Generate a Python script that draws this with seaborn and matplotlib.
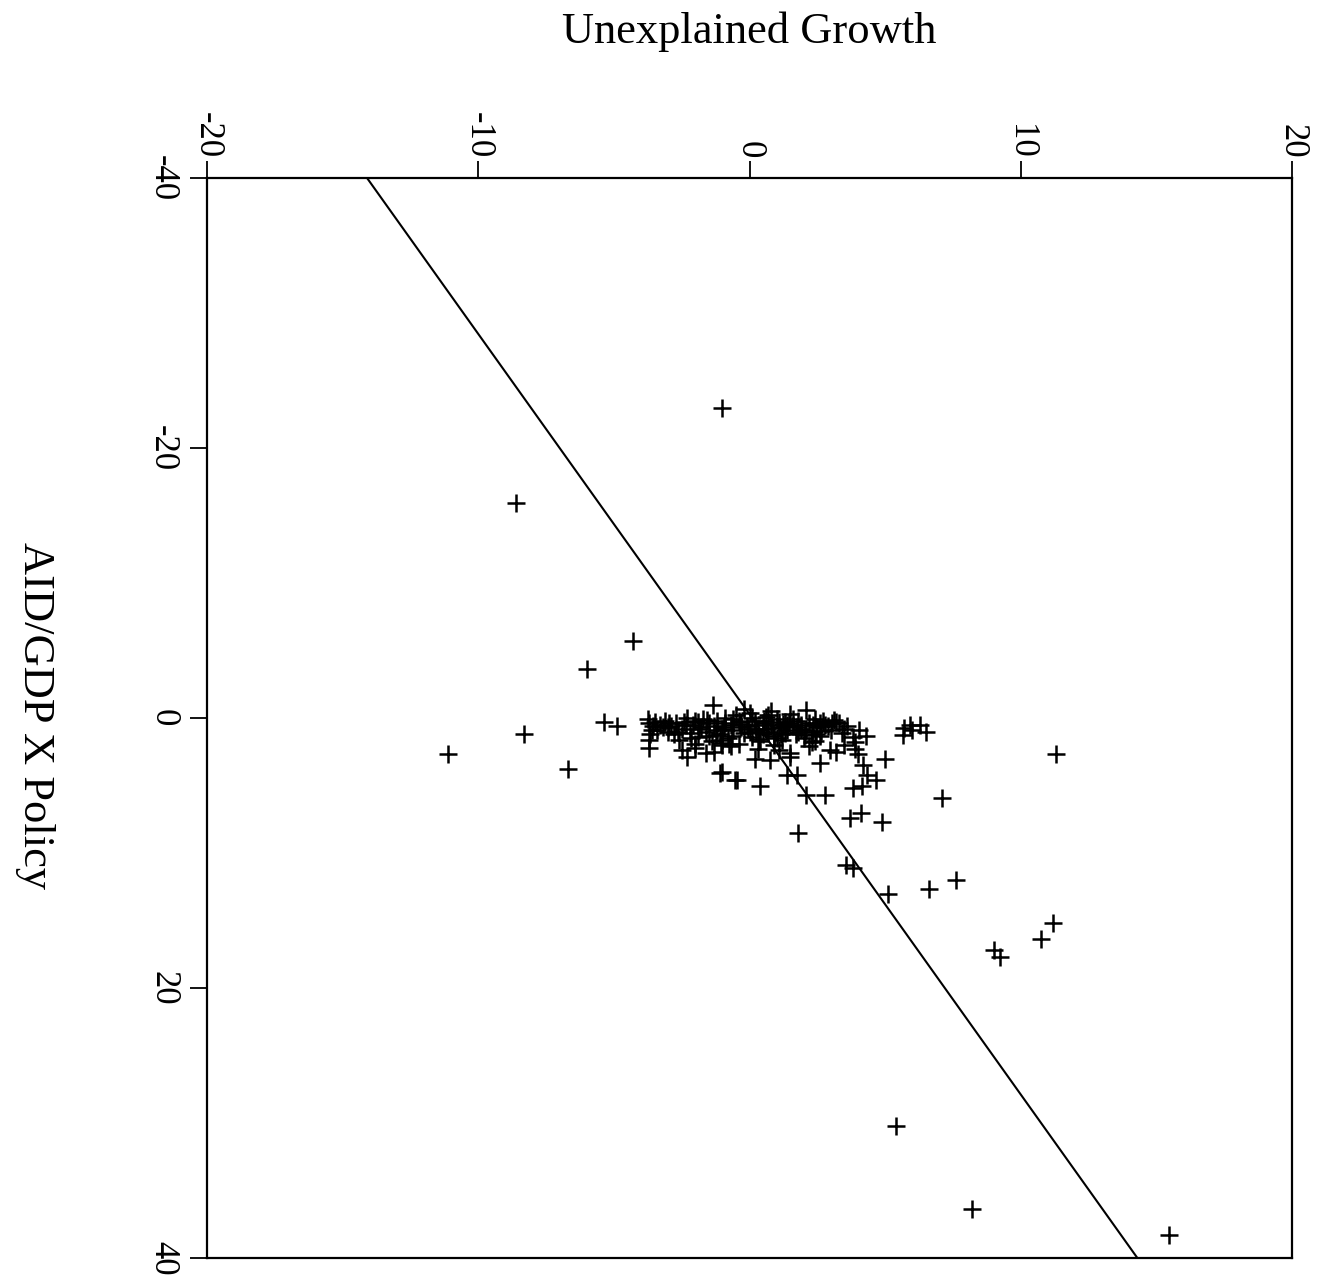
'''
Unexplained growth vs AID/GDP x Policy (rotated scatter with fitted line)
'''

import numpy as np
import pandas as pd
import matplotlib
matplotlib.use("Agg")
import matplotlib.pyplot as plt
import seaborn as sns

# Outlying observations (growth, aid x policy)
out_growth = [-1.0, -8.6, -4.3, -6.0, -1.35, -11.1, -8.3, -6.7, -5.35, -4.9,
              2.1, 7.1, 11.3, 5.0, 4.9, 3.7, 4.1, 1.8, 2.8, 2.1,
              0.4, -0.45, -1.1, 1.4, 1.75, 3.8, 4.15, 4.65, 4.35, 3.56,
              3.8, 5.1, 6.6, 7.6, 9.0, 9.24, 10.75, 11.2, 5.4, 8.2, 15.45,
              5.7, 5.9, 6.0, 5.65, 6.3, 6.5]
out_aid = [-23.0, -15.9, -5.7, -3.6, -1.0, 2.7, 1.2, 3.8, 0.3, 0.6,
           -0.6, 5.9, 2.7, 3.0, 7.7, 7.4, 7.0, 8.5, 5.7, 5.7,
           5.0, 4.6, 4.1, 4.2, 4.2, 5.2, 5.0, 4.6, 4.2, 10.9,
           11.1, 13.0, 12.7, 12.0, 17.2, 17.7, 16.4, 15.2, 30.2, 36.4, 38.3,
           0.75, 0.5, 0.9, 1.25, 0.5, 1.0]

# Points around the edge of the main cluster
edge_growth = [4.05, 3.9, 4.0, 4.2, 3.05, 2.95, 2.6, 0.75, 1.1, 3.2,
               -3.7, -3.7, -3.7, -3.6, -3.0, -2.3, -1.6, -1.0, -0.55, -1.0,
               -3.75, -3.65, -2.5, -2.0, 0.2, 1.5, 2.3, 3.5, 3.9, 4.3]
edge_aid = [0.9, 1.8, 2.7, 3.5, 0.4, 2.4, 3.3, 3.1, 2.4, 2.5,
            0.4, 1.6, 2.2, 0.9, 0.7, 2.9, 2.6, 4.0, 4.6, 2.0,
            0.1, 1.2, 2.4, 1.9, 3.0, 2.9, 1.8, 2.0, 2.3, 1.3]

# Dense core near the origin
core_growth = [-3.5, -3.3, -3.1, -2.9, -2.7, -2.5, -2.4, -2.2, -2.1, -2.0,
               -1.9, -1.8, -1.7, -1.6, -1.5, -1.4, -1.3, -1.2, -1.1, -1.0,
               -0.9, -0.8, -0.7, -0.6, -0.5, -0.4, -0.3, -0.2, -0.1, 0.0,
               0.1, 0.2, 0.3, 0.4, 0.5, 0.6, 0.7, 0.8, 0.9, 1.0,
               1.1, 1.2, 1.3, 1.4, 1.5, 1.6, 1.7, 1.8, 1.9, 2.0,
               2.2, 2.3, 2.4, 2.5, 2.6, 2.8, 3.0, 3.2, 3.4, 3.6, 3.8,
               -3.4, -2.8, -2.3, -1.9, -1.5, -1.2, -0.9, -0.6, -0.3, 0.0,
               0.2, 0.5, 0.8, 1.1, 1.3, 1.6, 1.9, 2.1, 2.4, 2.7,
               2.9, 3.3, -2.6, -2.0, -1.3, -0.7, 0.3, 0.9, 1.5, 2.2,
               -0.2, 0.6, 1.0, -1.0, -0.4, 0.1, 1.4, 1.8, 2.6, -3.0,
               -3.2, -2.95, -2.65, -2.35, -1.85, -1.55, -1.25, -0.95, -0.65, -0.35,
               -0.05, 0.25, 0.55, 0.85, 1.15, 1.45, 1.75, 2.05, 2.35, 2.65,
               3.1, 3.5, -3.55, -2.15, -1.05, 0.35, 1.25, 2.45, -0.75, 0.7]
core_aid = [0.3, 0.5, 0.2, 0.6, 0.4, 0.8, 0.3, 1.1, 0.5, 0.2,
            1.4, 0.7, 0.1, 1.0, 0.4, 1.7, 0.6, 0.2, 1.2, 0.8,
            0.0, 1.5, 0.5, 0.9, -0.2, 1.9, 0.3, 1.1, 0.6, -0.4,
            1.4, 0.2, 0.8, 1.7, 0.4, -0.1, 1.0, 0.5, 1.3, 0.1,
            0.7, 1.6, 0.3, 0.9, -0.3, 0.6, 1.2, 0.2, 0.8, 1.5,
            0.4, 1.0, 0.1, 0.7, 1.3, 0.5, 0.9, 0.3, 1.1, 0.6, 1.4,
            0.9, 1.2, 0.0, 0.3, 1.3, 0.9, 0.4, 0.1, 0.7, 1.0,
            0.5, 1.2, -0.5, 0.3, 1.1, 0.1, 0.5, 0.9, 1.7, 0.2,
            0.6, 0.4, 1.6, 2.2, 2.5, 2.1, 2.3, 2.0, 2.6, 2.1,
            -0.7, 0.8, 1.5, 1.6, 0.2, 0.0, 0.5, 1.0, 0.4, 1.0,
            0.7, 0.35, 1.05, 0.55, 0.85, 0.15, 1.25, 0.65, 1.35, 0.45,
            0.85, 1.05, 0.25, 0.75, 1.15, 0.35, 0.65, 1.25, 0.55, 0.95,
            0.15, 0.8, 0.6, 1.45, 1.85, 1.55, 0.45, 1.2, 1.9, -0.25]

# Fitted regression line end points
line_growth = [-14.1, 14.3]
line_aid = [-40, 40]

df = pd.DataFrame({
    "growth": out_growth + edge_growth + core_growth,
    "aid": out_aid + edge_aid + core_aid,
})

sns.set_style("ticks")
plt.rcParams["font.family"] = ["Liberation Serif", "DejaVu Serif"]
plt.rcParams["axes.unicode_minus"] = False
plt.rcParams["text.color"] = "black"
plt.rcParams["xtick.color"] = "black"
plt.rcParams["ytick.color"] = "black"

fig = plt.figure(figsize=(13.19, 12.82), dpi=100)
ax = fig.add_axes([207 / 1319, 1 - 1258 / 1282, 1085 / 1319, 1080 / 1282])

sns.scatterplot(x="growth", y="aid", data=df, marker="+", s=175,
                color="black", linewidth=1.8, ax=ax, legend=False)
sns.lineplot(x=line_growth, y=line_aid, color="black", linewidth=1.5, ax=ax)

ax.set_xlim(-20, 20)
ax.set_ylim(40, -40)
ax.set_xticks([-20, -10, 0, 10, 20])
ax.set_yticks([-40, -20, 0, 20, 40])
ax.set_xlabel("")
ax.set_ylabel("")

ax.tick_params(axis="x", top=True, labeltop=True, bottom=False, labelbottom=False,
               direction="out", length=12, width=1.3, pad=2, labelsize=25,
               labelrotation=-90, labelcolor="black")
ax.tick_params(axis="y", left=True, right=False, direction="out", length=12,
               width=1.3, pad=8, labelsize=25, labelrotation=-90, labelcolor="black")
for lab in ax.get_yticklabels():
    lab.set_va("center")

for sp in ax.spines.values():
    sp.set_visible(True)
    sp.set_linewidth(1.6)
    sp.set_color("black")

fig.text(749.5 / 1319, 1 - 32 / 1282, "Unexplained Growth", fontsize=32,
         ha="center", va="center", color="black")
fig.text(35 / 1319, 1 - 715 / 1282, "AID/GDP X Policy", fontsize=32,
         ha="center", va="center", rotation=-90, color="black")

plt.savefig("out.png", dpi=100)
